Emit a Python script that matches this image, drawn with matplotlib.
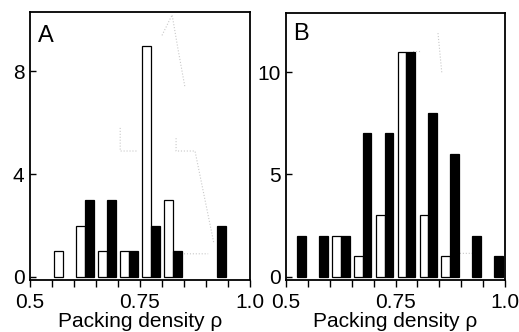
import numpy as np
import matplotlib
matplotlib.use("Agg")
import matplotlib.pyplot as plt

plt.rcParams['font.family'] = ['Liberation Sans', 'DejaVu Sans']

# Bin centres of the packing-density histogram (bin width 0.05)
bin_centers = [0.525, 0.575, 0.625, 0.675, 0.725, 0.775, 0.825, 0.875, 0.925, 0.975]

# Panel A counts
a_open = [0, 1, 2, 1, 1, 9, 3, 0, 0, 0]
a_filled = [0, 0, 3, 3, 1, 2, 1, 0, 2, 0]

# Panel B counts
b_open = [0, 0, 2, 1, 3, 11, 3, 1, 0, 0]
b_filled = [2, 2, 2, 7, 7, 11, 8, 6, 2, 1]

# Faint dotted reference trace (NaN separates pieces)
nan = np.nan
trace_a_x = [0.705, 0.705, 0.745, nan, 0.800, 0.823, 0.836, 0.852, nan,
             0.832, 0.832, 0.875, 0.918, nan, 0.850, 0.905]
trace_a_y = [5.8, 4.9, 4.9, nan, 9.4, 10.2, 8.9, 7.4, nan,
             5.4, 4.9, 4.9, 1.3, nan, 0.9, 0.9]
trace_b_x = [0.790, 0.810, nan, 0.847, 0.856, nan, 0.897, 0.925]
trace_b_y = [11.0, 11.0, nan, 11.9, 9.9, nan, 1.15, 1.15]

x_ticks = [0.5, 0.55, 0.6, 0.65, 0.7, 0.75, 0.8, 0.85, 0.9, 0.95, 1.0]
x_ticklabels = ['0.5', '', '', '', '', '0.75', '', '', '', '', '1.0']

W, H = 519, 332
fig = plt.figure(figsize=(W / 100, H / 100), dpi=100)


def make_axes(left, right, top, bottom):
    return fig.add_axes([left / W, 1 - bottom / H, (right - left) / W, (bottom - top) / H])


def draw_panel(ax, open_counts, filled_counts, tx, ty, ylim, yticks, letter, letter_pos):
    bw = 0.02
    c = np.array(bin_centers)
    o = np.array(open_counts)
    f = np.array(filled_counts)
    m = o > 0
    ax.bar(c[m] - bw, o[m], width=bw, align='edge', color='white',
           edgecolor='black', linewidth=0.9, zorder=2)
    m = f > 0
    ax.bar(c[m], f[m], width=bw, align='edge', color='black',
           edgecolor='black', linewidth=0.9, zorder=3)
    ax.plot(tx, ty, linestyle=':', color='#c8c8c8', linewidth=0.8, zorder=1)
    ax.set_xlim(0.5, 1.0)
    ax.set_ylim(*ylim)
    ax.set_xticks(x_ticks)
    ax.set_xticklabels(x_ticklabels)
    ax.set_yticks(yticks)
    ax.tick_params(axis='x', direction='out', length=5, width=1.0, pad=4.5, labelsize=15)
    ax.tick_params(axis='y', direction='in', length=4, width=1.0, pad=4, labelsize=15)
    for s in ax.spines.values():
        s.set_linewidth(1.3)
    ax.set_xlabel('Packing density ρ', fontsize=15, labelpad=0)
    ax.text(letter_pos[0], letter_pos[1], letter, transform=ax.transAxes,
            fontsize=17, va='baseline', ha='left')


ax_a = make_axes(30, 250, 12, 280)
draw_panel(ax_a, a_open, a_filled, trace_a_x, trace_a_y, (-0.12, 10.31),
           [0, 4, 8], 'A', (0.036, 0.888))

ax_b = make_axes(286, 505, 13, 280)
draw_panel(ax_b, b_open, b_filled, trace_b_x, trace_b_y, (-0.15, 12.88),
           [0, 5, 10], 'B', (0.032, 0.899))

fig.savefig('out.png', dpi=100)
